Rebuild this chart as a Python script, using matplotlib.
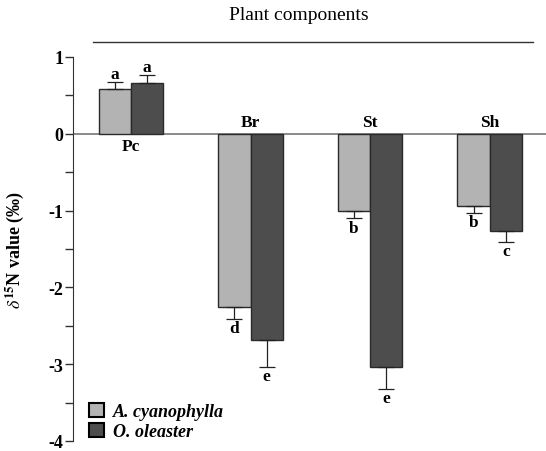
import numpy as np
import matplotlib
matplotlib.use("Agg")
from matplotlib import pyplot as plt
from matplotlib.patches import Patch

plt.rcParams['font.family'] = ['Liberation Serif', 'DejaVu Serif']
plt.rcParams['mathtext.fontset'] = 'stix'

components = ['Pc', 'Br', 'St', 'Sh']
acacia = [0.58, -2.25, -1.00, -0.94]
acacia_err = [0.10, 0.16, 0.10, 0.09]
acacia_letters = ['a', 'd', 'b', 'b']
olea = [0.66, -2.69, -3.03, -1.26]
olea_err = [0.10, 0.34, 0.29, 0.15]
olea_letters = ['a', 'e', 'e', 'c']
species = ['A. cyanophylla', 'O. oleaster']

light = '#b3b3b3'
dark = '#4d4d4d'
edge = '#2a2a2a'

fig = plt.figure(figsize=(5.46, 4.52), dpi=100)
ax = fig.add_axes([73 / 546, 10 / 452, 473 / 546, 384 / 452])

x = np.arange(len(components))
w = 0.27


def one_sided(vals, errs):
    # error bar only away from zero
    lo = [e if v < 0 else 0 for v, e in zip(vals, errs)]
    hi = [e if v >= 0 else 0 for v, e in zip(vals, errs)]
    return [lo, hi]


for off, vals, errs, col, letters in [(-w / 2, acacia, acacia_err, light, acacia_letters),
                                      (w / 2, olea, olea_err, dark, olea_letters)]:
    ax.bar(x + off, vals, w, color=col, edgecolor=edge, linewidth=1.0, zorder=2)
    ax.errorbar(x + off, vals, yerr=one_sided(vals, errs), fmt='none', ecolor='#222222',
                elinewidth=0.9, capsize=5.5, capthick=0.9, zorder=3)
    for xi, v, e, lt in zip(x + off, vals, errs, letters):
        end = v + e if v >= 0 else v - e
        ax.annotate(lt, (xi, end), xytext=(0, 0 if v >= 0 else -1), textcoords='offset points',
                    ha='center', va='bottom' if v >= 0 else 'top', fontsize=12.5, fontweight='bold')

for xi, name, v in zip(x, components, acacia):
    ax.annotate(name, (xi, 0), xytext=(0, -3 if v >= 0 else 3), textcoords='offset points',
                ha='center', va='top' if v >= 0 else 'bottom', fontsize=12.5, fontweight='bold')

ax.axhline(0, color='#777777', linewidth=1.2, zorder=1)
ax.set_xlim(-0.485, 3.47)
ax.set_ylim(-4, 1)
ax.set_xticks([])
ax.set_yticks([1, 0, -1, -2, -3, -4])
ax.set_yticklabels(['1', '0', '-1', '-2', '-3', '-4'], fontweight='bold', fontsize=13)
ax.set_yticks(np.arange(-3.5, 1, 1), minor=True)
ax.tick_params(axis='y', which='both', length=6, width=1, color='#333333', pad=1)
for s in ['top', 'right', 'bottom']:
    ax.spines[s].set_visible(False)
ax.spines['left'].set_color('#333333')
ax.set_ylabel(r'$\delta^{\mathbf{15}}$N value (‰)', fontweight='bold', fontsize=13, labelpad=2)
ax.yaxis.set_label_coords(-0.1, 0.5)

fig.text(299 / 546, 1 - 15 / 452, 'Plant components', ha='center', va='center', fontsize=14)
fig.add_artist(plt.Line2D([93 / 546, 533 / 546], [1 - 43 / 452, 1 - 43 / 452],
                          color='#333333', linewidth=1))

handles = [Patch(facecolor=light, edgecolor='black', linewidth=1.5),
           Patch(facecolor=dark, edgecolor='black', linewidth=1.5)]
leg = ax.legend(handles, species, loc='lower left', bbox_to_anchor=(0.0, -0.04), frameon=False,
                prop={'style': 'italic', 'weight': 'bold', 'size': 13},
                handlelength=0.8, handleheight=0.8, handletextpad=0.5, labelspacing=0.15)

fig.savefig('out.png', dpi=100)
